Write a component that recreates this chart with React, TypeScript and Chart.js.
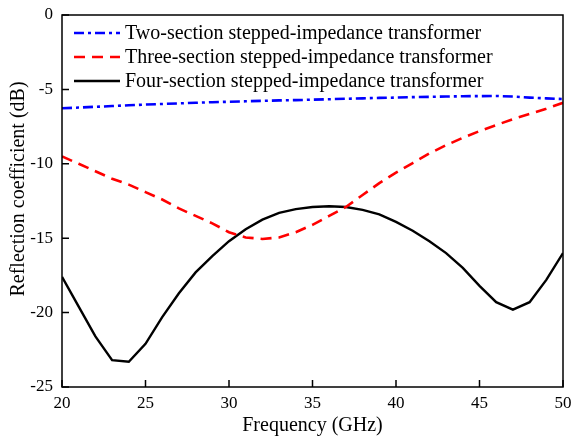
import React, { useEffect, useRef } from "react";
import { Chart, registerables } from "chart.js";

Chart.register(...registerables);

const freq = [20,21,22,23,24,25,26,27,28,29,30,31,32,33,34,35,36,37,38,39,40,41,42,43,44,45,46,47,48,49,50];

const twoSection = [-6.27,-6.22,-6.17,-6.12,-6.07,-6.02,-5.98,-5.94,-5.9,-5.86,-5.83,-5.8,-5.77,-5.74,-5.72,-5.69,-5.66,-5.63,-5.6,-5.57,-5.55,-5.52,-5.5,-5.48,-5.46,-5.45,-5.44,-5.48,-5.55,-5.6,-5.65];

const threeSection = [-9.5,-10.0,-10.5,-11.0,-11.4,-11.9,-12.4,-13.0,-13.5,-14.0,-14.6,-14.95,-15.05,-14.95,-14.6,-14.1,-13.5,-12.9,-12.1,-11.3,-10.6,-9.95,-9.3,-8.75,-8.25,-7.8,-7.4,-7.0,-6.65,-6.3,-5.9];

const fourSection = [-17.6,-19.6,-21.6,-23.2,-23.3,-22.1,-20.3,-18.7,-17.3,-16.2,-15.2,-14.4,-13.75,-13.3,-13.05,-12.9,-12.85,-12.9,-13.1,-13.4,-13.9,-14.5,-15.2,-16.0,-17.0,-18.2,-19.3,-19.8,-19.3,-17.8,-16.0];

const seriesNames = [
  "Two-section stepped-impedance transformer",
  "Three-section stepped-impedance transformer",
  "Four-section stepped-impedance transformer",
];
const seriesColors = ["#0000ff", "#ff0000", "#000000"];
const seriesDash = [[10, 4, 3, 4], [11, 7], []];
const seriesWidth = [2.6, 2.6, 2.4];

const xTitle = "Frequency (GHz)";
const yTitle = "Reflection coefficient (dB)";
const FONT = "'Liberation Serif', 'Times New Roman', serif";

const framePlugin = {
  id: "frame",
  afterDraw(chart: any) {
    const { ctx, chartArea, scales } = chart;
    const { left, right, top, bottom } = chartArea;
    ctx.save();
    ctx.strokeStyle = "#000";
    ctx.lineWidth = 1.5;
    ctx.setLineDash([]);
    ctx.strokeRect(left, top, right - left, bottom - top);
    ctx.beginPath();
    scales.x.ticks.forEach((t: any) => {
      const px = scales.x.getPixelForValue(t.value);
      ctx.moveTo(px, bottom);
      ctx.lineTo(px, bottom - 7);
    });
    scales.y.ticks.forEach((t: any) => {
      const py = scales.y.getPixelForValue(t.value);
      ctx.moveTo(left, py);
      ctx.lineTo(left + 7, py);
    });
    ctx.stroke();

    // y-axis title
    ctx.save();
    ctx.translate(19, 189);
    ctx.rotate(-Math.PI / 2);
    ctx.font = `20px ${FONT}`;
    ctx.fillStyle = "#000";
    ctx.textAlign = "center";
    ctx.textBaseline = "middle";
    ctx.fillText(yTitle, 0, 0);
    ctx.restore();

    // legend
    const rows = [33, 57, 81];
    ctx.font = `20px ${FONT}`;
    ctx.textBaseline = "middle";
    ctx.textAlign = "left";
    seriesNames.forEach((name, i) => {
      const y = rows[i];
      ctx.beginPath();
      ctx.strokeStyle = seriesColors[i];
      ctx.lineWidth = seriesWidth[i];
      ctx.setLineDash(seriesDash[i]);
      ctx.moveTo(left + 12, y);
      ctx.lineTo(left + 58, y);
      ctx.stroke();
      ctx.setLineDash([]);
      ctx.fillStyle = "#000";
      ctx.fillText(name, left + 63, y + 1);
    });
    ctx.restore();
  },
};

export default function App() {
  const ref = useRef<HTMLCanvasElement>(null);
  useEffect(() => {
    document.body.style.margin = "0";
    const canvas = ref.current!;
    const chart = new Chart(canvas, {
      type: "line",
      data: {
        labels: freq,
        datasets: [twoSection, threeSection, fourSection].map((d, i) => ({
          label: seriesNames[i],
          data: d.map((v, j) => ({ x: freq[j], y: v })),
          borderColor: seriesColors[i],
          backgroundColor: seriesColors[i],
          borderWidth: seriesWidth[i],
          borderDash: seriesDash[i],
          pointRadius: 0,
          tension: 0,
          fill: false,
        })),
      },
      options: {
        animation: false,
        responsive: false,
        layout: { padding: { top: 15, right: 10, left: 0, bottom: 0 } },
        plugins: { legend: { display: false }, tooltip: { enabled: false } },
        scales: {
          x: {
            type: "linear",
            min: 20,
            max: 50,
            border: { display: false },
            grid: { display: false, drawTicks: false },
            ticks: { stepSize: 5, color: "#000", padding: 6, font: { family: FONT, size: 17 } },
            title: { display: true, text: xTitle, color: "#000", padding: { top: 0, bottom: 0 }, font: { family: FONT, size: 20 } },
            afterFit: (s: any) => { s.height = 51; s.paddingLeft = 0; s.paddingRight = 0; },
          },
          y: {
            min: -25,
            max: 0,
            border: { display: false },
            grid: { display: false, drawTicks: false },
            ticks: { stepSize: 5, color: "#000", padding: 9, font: { family: FONT, size: 17 } },
            title: { display: false, text: yTitle },
            afterFit: (s: any) => { s.width = 62; s.paddingTop = 0; s.paddingBottom = 0; },
          },
        },
      },
      plugins: [framePlugin],
    });
    return () => chart.destroy();
  }, []);
  return <canvas ref={ref} width={573} height={438} style={{ display: "block" }} />;
}
